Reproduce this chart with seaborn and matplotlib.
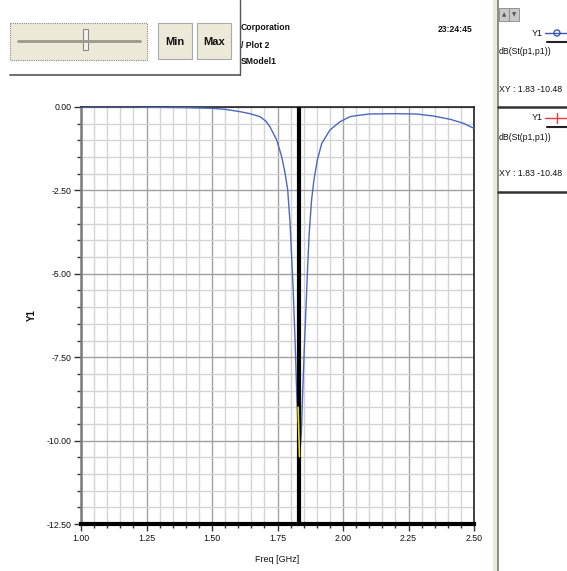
import numpy as np
import pandas as pd
import matplotlib
matplotlib.use("Agg")
import matplotlib.pyplot as plt
from matplotlib.patches import Rectangle, Circle
from matplotlib.ticker import MultipleLocator, FormatStrFormatter
import seaborn as sns

# S11 trace
freq_ghz = [1.00, 1.10, 1.20, 1.30, 1.40, 1.45, 1.50, 1.55, 1.607, 1.645, 1.683,
            1.705, 1.721, 1.747, 1.766, 1.779, 1.789, 1.798, 1.804, 1.810, 1.817, 1.823,
            1.829, 1.834, 1.841, 1.846, 1.852, 1.859, 1.865, 1.871, 1.880, 1.889,
            1.902, 1.919, 1.950, 1.989, 2.027, 2.05, 2.10, 2.20, 2.28, 2.345, 2.41,
            2.46, 2.50]
s11_db = [0.00, 0.00, 0.00, -0.01, -0.02, -0.03, -0.04, -0.07, -0.14, -0.20, -0.29,
          -0.42, -0.59, -0.99, -1.49, -1.99, -2.49, -3.49, -4.49, -5.49, -6.99, -8.49,
          -9.79, -10.48, -9.79, -8.59, -7.29, -5.99, -4.79, -3.79, -2.79, -2.19,
          -1.59, -1.09, -0.69, -0.44, -0.29, -0.26, -0.21, -0.20, -0.21, -0.27,
          -0.37, -0.49, -0.64]

marker_freq = 1.832
marker_db = -10.48
sel_freq = [1.8285, 1.834]
sel_db = [-9.0, -10.48]

legend_rows = ["dB(St(p1,p1))", "dB(St(p1,p1))"]
marker_text = "XY : {:.2f} {:.2f}".format(marker_freq, marker_db)

sns.set_style("white")
narrow = ["Liberation Sans Narrow", "Liberation Sans", "DejaVu Sans"]
plt.rcParams["font.family"] = narrow

W, H = 567, 571
fig = plt.figure(figsize=(W / 100, H / 100), dpi=100)
fig.patch.set_facecolor("white")

# ---- GUI frame drawn in pixel coordinates ----
gui = fig.add_axes([0, 0, 1, 1], zorder=0)
gui.set_xlim(0, W)
gui.set_ylim(H, 0)
gui.axis("off")

beige = "#ece9d8"
# widget box outline
gui.plot([10, 240], [75, 75], color="#555555", lw=1.2)
gui.plot([240, 240], [0, 75], color="#555555", lw=1.0)
# slider
gui.add_patch(Rectangle((10, 23), 137, 37, facecolor=beige, edgecolor="#888888",
                        lw=0.8, ls=(0, (1, 1))))
gui.plot([18, 140], [41, 41], color="#9a9a8a", lw=2)
gui.add_patch(Rectangle((83, 29), 5, 21, facecolor="#f4f3ee", edgecolor="#888888", lw=0.8))
# Min / Max buttons
for x0, label in [(158, "Min"), (197, "Max")]:
    gui.add_patch(Rectangle((x0, 23), 34, 36, facecolor=beige, edgecolor="#aaaaaa", lw=0.8))
    gui.text(x0 + 17, 42, label, ha="center", va="center", fontsize=8,
             fontweight="bold", color="#111111")
# header text
for y, txt in [(28, "Corporation"), (45, "/ Plot 2"), (62, "SModel1")]:
    gui.text(241, y, txt, ha="left", va="center", fontsize=6.2, fontweight="bold",
             color="#111111")
gui.text(473, 29, "23:24:45", ha="right", va="center", fontsize=6.2, fontweight="bold",
         color="#111111")

# right legend panel
gui.add_patch(Rectangle((493, 0), 4, H, facecolor=beige, edgecolor="none"))
gui.plot([497.5, 497.5], [0, H], color="#777777", lw=1.2)
gui.add_patch(Rectangle((499, 8), 10, 13, facecolor="#c8c8c8", edgecolor="#888888", lw=0.6))
gui.add_patch(Rectangle((509, 8), 10, 13, facecolor="#c8c8c8", edgecolor="#888888", lw=0.6))
gui.text(504, 14.5, "▲", ha="center", va="center", fontsize=4, color="#555555",
         family="DejaVu Sans")
gui.text(514, 14.5, "▼", ha="center", va="center", fontsize=4, color="#555555",
         family="DejaVu Sans")

for i, (y0, col, mk) in enumerate([(0, "#3a55b5", "o"), (85, "#e83a3a", "+")]):
    gui.text(543, 33 + y0, "Y1", ha="right", va="center", fontsize=6.5, color="#111111")
    gui.plot([545, 567], [33 + y0, 33 + y0], color=col, lw=1.0)
    if mk == "o":
        gui.add_patch(Circle((557, 33 + y0), 3, facecolor="white", edgecolor=col, lw=1.0))
    else:
        gui.plot([557, 557], [28 + y0, 38 + y0], color=col, lw=1.0)
    gui.plot([547, 567], [42 + y0, 42 + y0], color="#222222", lw=1.5)
    gui.text(499, 52 + y0, legend_rows[i], ha="left", va="center",
             fontsize=6.3, color="#111111")
    gui.text(499, 89 + y0, marker_text, ha="left", va="center", fontsize=6.3,
             color="#111111")
    gui.plot([498, 567], [107 + y0, 107 + y0], color="#333333", lw=1.8)

# ---- the plot itself ----
ax = fig.add_axes([81 / W, 47 / H, 393 / W, 417 / H], zorder=1)
ax.set_facecolor("white")

df = pd.DataFrame({"Freq": freq_ghz, "dB": s11_db})
ax.set_xlim(1.0, 2.5)
ax.set_ylim(-12.5, 0.0)

ax.xaxis.set_major_locator(MultipleLocator(0.25))
ax.xaxis.set_minor_locator(MultipleLocator(0.05))
ax.yaxis.set_major_locator(MultipleLocator(2.5))
ax.yaxis.set_minor_locator(MultipleLocator(0.5))
ax.xaxis.set_major_formatter(FormatStrFormatter("%.2f"))
ax.yaxis.set_major_formatter(FormatStrFormatter("%.2f"))

ax.grid(which="minor", color="#d4d4d4", lw=1.0)
ax.grid(which="major", color="#a0a0a0", lw=1.0)
ax.set_axisbelow(True)

sns.lineplot(data=df, x="Freq", y="dB", ax=ax, color="#4a68c0", lw=1.0,
             sort=False, zorder=3)
ax.axvline(marker_freq, color="black", lw=3, zorder=4)
ax.plot(sel_freq, sel_db, color="#e8e000", lw=1.2, zorder=5)

ax.tick_params(which="major", direction="out", length=5, width=1, colors="#333333",
               labelsize=6.3, labelcolor="#111111", bottom=True, left=True, pad=2)
ax.tick_params(which="minor", direction="out", length=3, width=1, colors="#333333",
               bottom=True, left=True)

for side, col, lw in [("bottom", "black", 3), ("left", "#7a7a7a", 1.8),
                      ("top", "#222222", 1.2), ("right", "#222222", 1.2)]:
    ax.spines[side].set_visible(True)
    ax.spines[side].set_color(col)
    ax.spines[side].set_linewidth(lw)

ax.set_xlabel("Freq [GHz]", fontsize=6.5, color="#111111")
ax.xaxis.set_label_coords(0.5, -0.074)
ax.set_ylabel("Y1", fontsize=7, fontweight="bold", color="#111111")
ax.yaxis.set_label_coords(-0.112, 0.5)

fig.savefig("out.png", dpi=100)
